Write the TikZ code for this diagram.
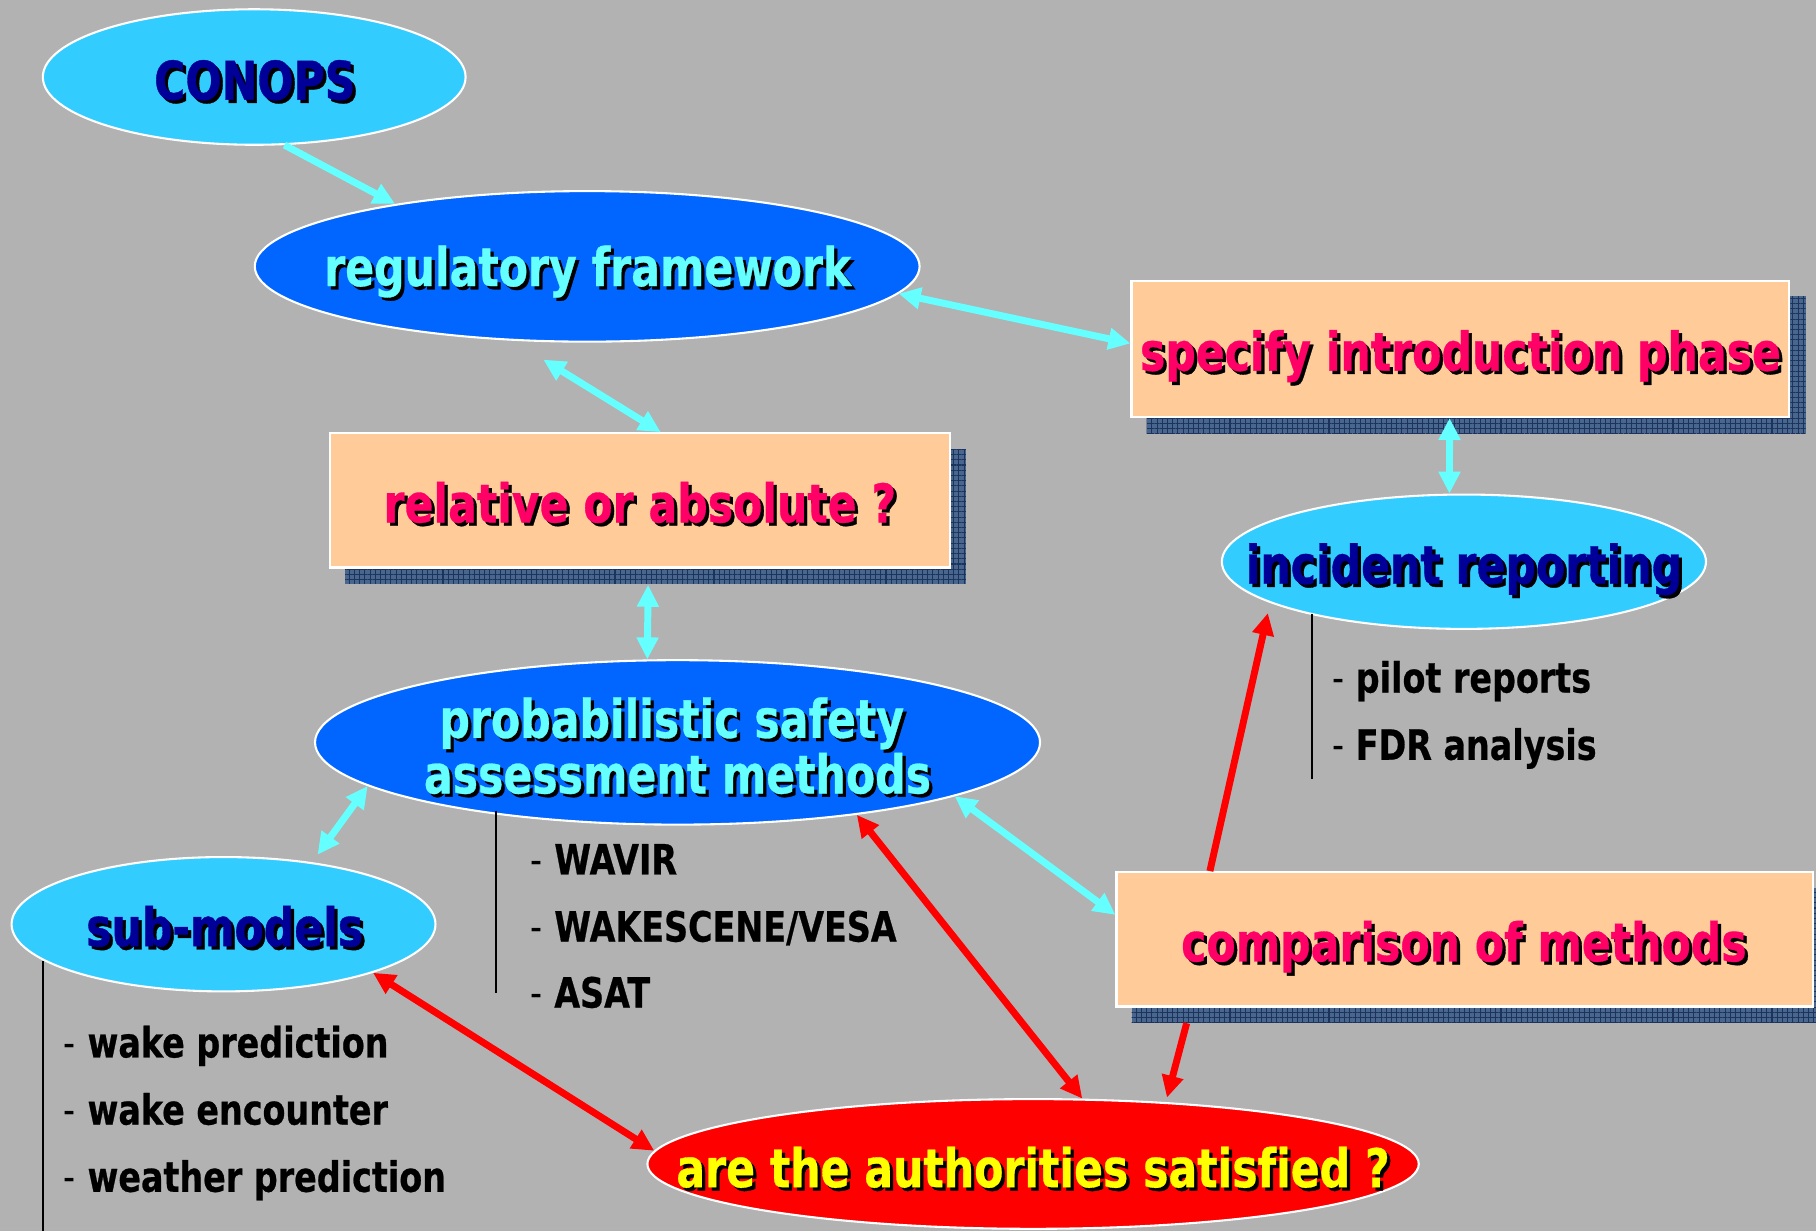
\documentclass[tikz,border=0pt]{standalone}
\usepackage{fontspec}
\setmainfont{DejaVu Sans}[FakeStretch=0.8, Ligatures=NoCommon, BoldFeatures={FakeBold=0.6}]
\usetikzlibrary{shapes.geometric,arrows.meta,patterns.meta}
\definecolor{bgc}{RGB}{178,178,178}
\definecolor{lcyan}{RGB}{51,204,255}
\definecolor{dblue}{RGB}{0,102,255}
\definecolor{cyant}{RGB}{102,255,255}
\definecolor{navyt}{RGB}{0,0,153}
\definecolor{peach}{RGB}{255,204,153}
\definecolor{pinkt}{RGB}{255,0,102}
\definecolor{redf}{RGB}{255,0,0}
\definecolor{yellowt}{RGB}{255,255,0}
\definecolor{shadc}{RGB}{72,102,142}
\definecolor{gridc}{RGB}{28,52,92}
\newcommand\shtx[2]{\leavevmode\rlap{\kern2.8pt\raisebox{-2.8pt}{\textcolor{black}{#2}}}\textcolor{#1}{#2}}
\begin{document}
\begin{tikzpicture}[x=1pt,y=-1pt,
  ell/.style={ellipse, draw=white, line width=1.8pt, inner sep=0pt},
  box/.style={rectangle, draw=white, line width=1.8pt, fill=peach, inner sep=0pt},
  lbl/.style={anchor=base, inner sep=0pt, font=\bfseries\fontsize{46}{48}\selectfont},
  item/.style={anchor=base west, inner sep=0pt, font=\bfseries\fontsize{36}{40}\selectfont},
  shad/.style={fill=shadc, postaction={pattern={Hatch[angle=0,distance=4.5pt,line width=0.9pt]}, pattern color=gridc}},
  cyone/.style={draw=cyant, line width=6pt, -{Triangle[length=19pt,width=18pt]}},
  cytwo/.style={draw=cyant, line width=6pt, {Triangle[length=19pt,width=18pt]}-{Triangle[length=19pt,width=18pt]}},
  rdone/.style={draw=redf, line width=6pt, -{Triangle[length=19pt,width=18pt]}},
  rdtwo/.style={draw=redf, line width=6pt, {Triangle[length=19pt,width=18pt]}-{Triangle[length=19pt,width=18pt]}},
  vline/.style={draw=black, line width=1.5pt}
]
\useasboundingbox (0,0) rectangle (1568,1063);
\clip (0,0) rectangle (1568,1063);
\fill[bgc] (0,0) rectangle (1568,1063);

% shadows of boxes
\path[shad] (990,256) rectangle (1559,374);
\path[shad] (298,388) rectangle (834,504);
\path[shad] (977,767) rectangle (1580,883);

% shapes
\node[ell, fill=lcyan, minimum width=365pt, minimum height=117pt] (conops) at (219.5,66.5) {};
\node[ell, fill=dblue, minimum width=574pt, minimum height=130pt] (reg) at (507,230) {};
\node[box, minimum width=568pt, minimum height=117pt] (spec) at (1261,301.5) {};
\node[box, minimum width=535pt, minimum height=116pt] (rel) at (552.5,432) {};
\node[ell, fill=lcyan, minimum width=418pt, minimum height=116pt] (inc) at (1264,485) {};
\node[ell, fill=dblue, minimum width=626pt, minimum height=142pt] (prob) at (585,641) {};
\node[ell, fill=lcyan, minimum width=366pt, minimum height=116pt] (sub) at (193,798) {};
\node[box, minimum width=601pt, minimum height=116pt] (comp) at (1264.5,811) {};
\node[ell, fill=redf, minimum width=666pt, minimum height=112pt] (auth) at (892,1005) {};

% labels
\node[lbl] (conopst) at (220,86) {\shtx{navyt}{CONOPS}};
\node[lbl] (regt) at (507.5,247) {\shtx{cyant}{regulatory framework}};
\node[lbl] (spect) at (1261,320) {\shtx{pinkt}{specify introduction phase}};
\node[lbl] (relt) at (552.5,451) {\shtx{pinkt}{relative or absolute ?}};
\node[lbl] (inct) at (1264,504) {\shtx{navyt}{incident reporting}};
\node[lbl] (probta) at (580,637) {\shtx{cyant}{probabilistic safety}};
\node[lbl] (probtb) at (585,685) {\shtx{cyant}{assessment methods}};
\node[lbl] (subt) at (194,817) {\shtx{navyt}{sub-models}};
\node[lbl] (compt) at (1264,830) {\shtx{pinkt}{comparison of methods}};
\node[lbl] (autht) at (892,1025) {\shtx{yellowt}{are the authorities satisfied ?}};

% lists
\draw[vline] (1133,530) -- (1133,673);
\node[item] (ia) at (1150,598) {{\mdseries -} pilot reports};
\node[item] (ib) at (1150,656) {{\mdseries -} FDR analysis};
\draw[vline] (428,700) -- (428,857);
\node[item] (pa) at (458,755) {{\mdseries -} WAVIR};
\node[item] (pb) at (458,813) {{\mdseries -} WAKESCENE/VESA};
\node[item] (pc) at (458,870) {{\mdseries -} ASAT};
\draw[vline] (37,830) -- (37,1063);
\node[item] (sa) at (55,913) {{\mdseries -} wake prediction};
\node[item] (sb) at (55,971) {{\mdseries -} wake encounter};
\node[item] (sc) at (55,1029) {{\mdseries -} weather prediction};

% connectors
\draw[cyone] (conops.-66) -- (reg.162);
\draw[cytwo] (reg.-5.6) -- (spec.179);
\draw[cytwo, shorten <=31pt] (reg.-135) -- (rel.73);
\draw[cytwo, shorten <=14pt] (rel.-83.6) -- (prob.110);
\draw[cytwo] (spec.-99.7) -- (inc.102.6);
\draw[cytwo, shorten >=8pt] (prob.-172.5) -- (sub.35);
\draw[cytwo] (prob.-11.9) -- (comp.176);
\draw[rdtwo] (prob.-22.1) -- (auth.53);
\draw[rdtwo] (sub.-18.8) -- (auth.178.8);
\draw[rdone, shorten >=9pt] (comp.165.3) -- (inc.-168);
\draw[rdone, shorten <=14pt, shorten >=4pt] (comp.-166.8) -- (auth.25);
\end{tikzpicture}
\end{document}
